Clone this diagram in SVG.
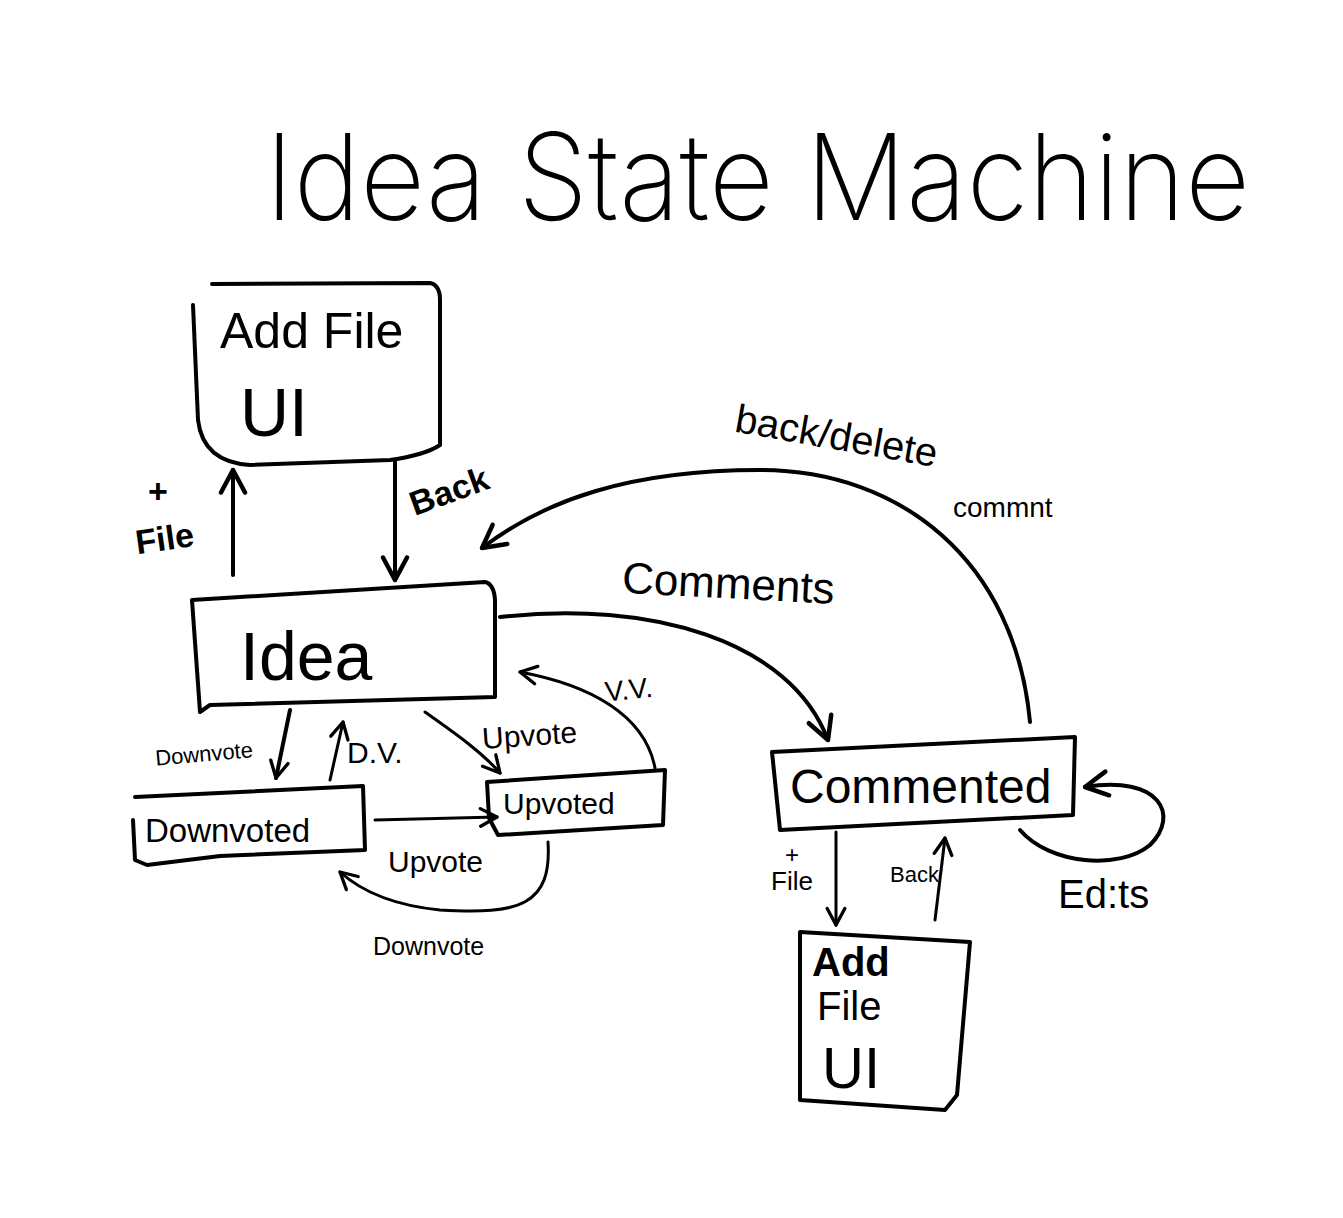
<svg xmlns="http://www.w3.org/2000/svg" width="1343" height="1218" viewBox="0 0 1343 1218">
<style>
  .box{fill:none;stroke:#000;stroke-width:4;stroke-linejoin:round;stroke-linecap:round}
  .edge{fill:none;stroke:#000;stroke-width:4;stroke-linecap:round}
  .t{font-family:"Liberation Sans","DejaVu Sans",sans-serif;fill:#000}
  .lbl{font-family:"Liberation Sans","DejaVu Sans",sans-serif;fill:#000}
</style>
<defs>
  <marker id="ah" viewBox="0 0 20 20" refX="18" refY="10" markerWidth="30" markerHeight="30" markerUnits="userSpaceOnUse" orient="auto">
    <path d="M3 2 L18 10 L3 18" fill="none" stroke="#000" stroke-width="3" stroke-linecap="round" stroke-linejoin="round"/>
  </marker>
  <marker id="ahs" viewBox="0 0 20 20" refX="18" refY="10" markerWidth="22" markerHeight="22" markerUnits="userSpaceOnUse" orient="auto">
    <path d="M3 2 L18 10 L3 18" fill="none" stroke="#000" stroke-width="3" stroke-linecap="round" stroke-linejoin="round"/>
  </marker>
</defs>
<rect width="1343" height="1218" fill="#fff"/>

<text class="t" x="265" y="220" font-size="120" font-weight="200" textLength="985" lengthAdjust="spacingAndGlyphs" style="font-family:Inter,'Liberation Sans',sans-serif">Idea State Machine</text>

<g id="connectors">
  <path class="edge" d="M233 575 L233 470" marker-end="url(#ah)"/>
  <path class="edge" d="M395 462 L395 580" marker-end="url(#ah)"/>
  <path class="edge" d="M500 617 C650 600 790 640 828 740" marker-end="url(#ah)"/>
  <path class="edge" d="M1030 722 C1015 560 900 470 760 470 C630 470 545 500 482 548" marker-end="url(#ah)"/>
  <path class="edge" d="M1020 830 C1050 865 1120 870 1150 845 C1180 815 1160 775 1085 787" marker-end="url(#ah)"/>
  <path class="edge" style="stroke-width:3" d="M836 832 L836 925" marker-end="url(#ahs)"/>
  <path class="edge" style="stroke-width:3" d="M935 920 L945 838" marker-end="url(#ahs)"/>
  <path class="edge" d="M290 710 L276 778" marker-end="url(#ahs)"/>
  <path class="edge" style="stroke-width:3" d="M330 780 L343 722" marker-end="url(#ahs)"/>
  <path class="edge" style="stroke-width:3" d="M425 712 C450 730 480 750 500 773" marker-end="url(#ahs)"/>
  <path class="edge" style="stroke-width:3" d="M655 768 C645 715 590 685 520 672" marker-end="url(#ahs)"/>
  <path class="edge" style="stroke-width:3" d="M375 820 L497 817" marker-end="url(#ahs)"/>
  <path class="edge" style="stroke-width:3" d="M548 842 C552 905 520 915 440 910 C390 905 360 890 340 872" marker-end="url(#ahs)"/>

  <text class="lbl" x="148" y="503" font-size="34" font-weight="bold">+</text>
  <text class="lbl" x="135" y="548" font-size="34" font-weight="bold" transform="rotate(-8 180 535)">File</text>
  <text class="lbl" x="405" y="500" font-size="34" font-weight="bold" transform="rotate(-20 455 480)">Back</text>
  <text class="lbl" x="622" y="600" font-size="44" transform="rotate(3 760 585)">Comments</text>
  <text class="lbl" x="732" y="452" font-size="40" transform="rotate(10 850 450)">back/delete</text>
  <text class="lbl" x="953" y="517" font-size="28">commnt</text>
  <text class="lbl" x="1058" y="908" font-size="40">Ed:ts</text>
  <text class="lbl" x="785" y="863" font-size="24">+</text>
  <text class="lbl" x="771" y="890" font-size="26">File</text>
  <text class="lbl" x="890" y="882" font-size="22">Back</text>
  <text class="lbl" x="155" y="760" font-size="22" transform="rotate(-5 220 752)">Downvote</text>
  <text class="lbl" x="347" y="763" font-size="30">D.V.</text>
  <text class="lbl" x="482" y="745" font-size="30" transform="rotate(-4 540 735)">Upvote</text>
  <text class="lbl" x="605" y="698" font-size="28" transform="rotate(-6 640 690)">V.V.</text>
  <text class="lbl" x="388" y="872" font-size="30">Upvote</text>
  <text class="lbl" x="373" y="955" font-size="25">Downvote</text>
</g>

<g id="addfile-top">
  <path class="box" d="M212 284 L430 283 Q440 285 440 300 L440 445 Q425 455 390 460 L250 465 Q203 462 198 420 L193 305"/>
  <text class="t" x="220" y="348" font-size="50">Add File</text>
  <text class="t" x="240" y="436" font-size="68">UI</text>
</g>

<g id="idea">
  <path class="box" d="M192 600 L485 582 Q494 584 495 600 L495 697 L210 705 L200 712 L192 600"/>
  <text class="t" x="240" y="680" font-size="68">Idea</text>
</g>

<g id="downvoted">
  <path class="box" d="M135 797 L363 786 L365 850 L220 856 L147 865 L135 860 L133 820"/>
  <text class="t" x="145" y="842" font-size="33">Downvoted</text>
</g>

<g id="upvoted">
  <path class="box" d="M487 782 L665 770 L663 825 L498 835 L489 818 Z"/>
  <text class="t" x="503" y="814" font-size="30">Upvoted</text>
</g>

<g id="commented">
  <path class="box" d="M772 752 L1075 737 L1073 815 L780 830 Z"/>
  <text class="t" x="790" y="803" font-size="48">Commented</text>
</g>

<g id="addfile-bottom">
  <path class="box" d="M800 932 L970 942 L957 1095 L945 1110 L800 1100 Z"/>
  <text class="t" x="812" y="976" font-size="40" font-weight="bold">Add</text>
  <text class="t" x="817" y="1020" font-size="40">File</text>
  <text class="t" x="822" y="1088" font-size="58">UI</text>
</g>
</svg>
